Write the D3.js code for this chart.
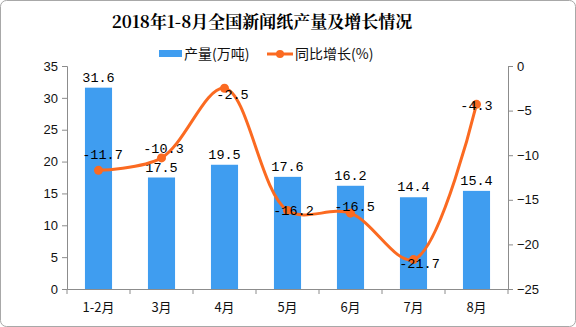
<!DOCTYPE html>
<html><head><meta charset="utf-8">
<script src="https://cdn.jsdelivr.net/npm/d3@7"></script>
<style>html,body{margin:0;padding:0;background:#fff}svg{display:block}</style>
</head><body>
<script>
const categories = ["1-2月","3月","4月","5月","6月","7月","8月"];
const production = [31.6, 17.5, 19.5, 17.6, 16.2, 14.4, 15.4];
const growth = [-11.7, -10.3, -2.5, -16.2, -16.5, -21.7, -4.3];
const leftTicks = [0,5,10,15,20,25,30,35];
const rightTicks = [0,-5,-10,-15,-20,-25];
const title = "2018年1-8月全国新闻纸产量及增长情况";
const legendNames = ["产量(万吨)", "同比增长(%)"];

const W = 576, H = 327;
const m = {left:67, right:68, top:66, bottom:38};
const blue = "#3f9df0", orange = "#fb6a21", axisColor = "#8c8c8c";
const svg = d3.select("body").append("svg").attr("width", W).attr("height", H);
svg.append("rect").attr("x",0.5).attr("y",0.5).attr("width",W-1).attr("height",H-1)
  .attr("rx",6).attr("fill","#fff").attr("stroke","#a8a8a8");

const x = d3.scaleBand().domain(categories).range([m.left, W - m.right]).paddingInner(0.57).paddingOuter(0.285);
const xb = d3.scaleBand().domain(categories).range([m.left, W - m.right]);
const yL = d3.scaleLinear().domain([0,35]).range([H - m.bottom, m.top]);
const yR = d3.scaleLinear().domain([-25,0]).range([H - m.bottom, m.top]);

const tickFont = "'Liberation Sans', Arial, sans-serif";
const monoFont = "'Liberation Mono', 'DejaVu Sans Mono', monospace";
const cjk = "'Noto Sans CJK SC', sans-serif";

// axes
const gL = svg.append("g").attr("transform",`translate(${m.left},0)`)
  .call(d3.axisLeft(yL).tickValues(leftTicks).tickSize(5).tickPadding(4));
const gR = svg.append("g").attr("transform",`translate(${W-m.right},0)`)
  .call(d3.axisRight(yR).tickValues(rightTicks).tickSize(5).tickPadding(4).tickFormat(d => d===0 ? "0" : "\u2212" + Math.abs(d)));
const gB = svg.append("g").attr("transform",`translate(0,${H-m.bottom})`)
  .call(d3.axisBottom(xb).tickSize(0).tickPadding(14));
gB.selectAll(".tick").append("line").attr("x1", -xb.bandwidth()/2).attr("x2", -xb.bandwidth()/2).attr("y2",5);
gB.append("line").attr("x1", W-m.right).attr("x2", W-m.right).attr("y2",5);
[gL,gR,gB].forEach(g => {
  g.selectAll("path.domain").attr("stroke", axisColor);
  g.selectAll("line").attr("stroke", axisColor);
  g.selectAll("text").attr("fill","#111").style("font-family", tickFont).style("font-size","13px");
});
gB.selectAll("text").style("font-family", cjk).style("font-size","13px");

// bars
svg.append("g").selectAll("rect").data(production).join("rect")
  .attr("x",(d,i)=>x(categories[i])).attr("width",x.bandwidth())
  .attr("y",d=>yL(d)).attr("height",d=>yL(0)-yL(d)).attr("fill",blue);
svg.append("g").selectAll("text").data(production).join("text")
  .attr("x",(d,i)=>x(categories[i])+x.bandwidth()/2).attr("y",d=>yL(d)-6)
  .attr("text-anchor","middle").style("font-family",monoFont).style("font-size","13.5px").attr("fill","#000")
  .text(d=>d.toFixed(1));

// line
const cx = i => xb(categories[i]) + xb.bandwidth()/2;
const line = d3.line().x((d,i)=>cx(i)).y(d=>yR(d)).curve(d3.curveCatmullRom.alpha(0.5));
svg.append("path").datum(growth).attr("d",line).attr("fill","none").attr("stroke",orange).attr("stroke-width",3);
svg.append("g").selectAll("circle").data(growth).join("circle")
  .attr("cx",(d,i)=>cx(i)).attr("cy",d=>yR(d)).attr("r",4.5).attr("fill",orange);
const labOff = [[4,-16],[2,-10],[8,6],[6,-1],[4,-7],[6,3],[0,1]];
svg.append("g").selectAll("text").data(growth).join("text")
  .attr("x",(d,i)=>cx(i)+labOff[i][0]).attr("y",(d,i)=>yR(d)+labOff[i][1]+5)
  .attr("text-anchor","middle").style("font-family",monoFont).style("font-size","13.5px").attr("fill","#000")
  .text(d=>d.toFixed(1));

// title
svg.append("text").attr("x",262).attr("y",28).attr("text-anchor","middle")
  .style("font-family","'Noto Serif CJK SC','Noto Sans CJK SC',serif").style("font-weight","bold").style("font-size","17px")
  .attr("fill","#000").text(title);

// legend
svg.append("rect").attr("x",159).attr("y",50).attr("width",23).attr("height",7).attr("fill",blue);
svg.append("text").attr("x",184).attr("y",59).style("font-family",cjk).style("font-size","14px").attr("fill","#111").text(legendNames[0]);
svg.append("line").attr("x1",267).attr("x2",293).attr("y1",54).attr("y2",54).attr("stroke",orange).attr("stroke-width",3);
svg.append("circle").attr("cx",280).attr("cy",54).attr("r",4).attr("fill",orange);
svg.append("text").attr("x",295).attr("y",59).style("font-family",cjk).style("font-size","14px").attr("fill","#111").text(legendNames[1]);
</script>
</body></html>
